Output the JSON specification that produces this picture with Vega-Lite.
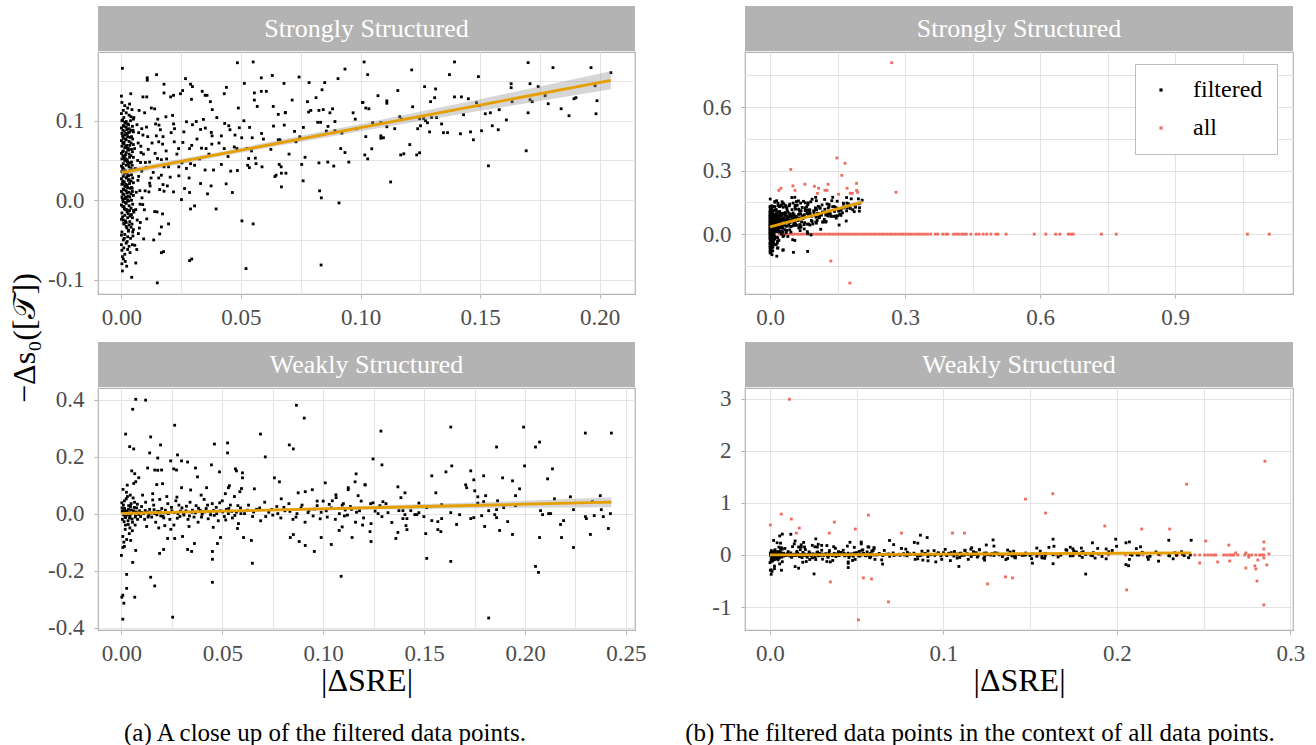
{
"$schema": "https://vega.github.io/schema/vega-lite/v6.json",
"padding": {"left": 5, "top": 6, "right": 0, "bottom": 0},
"background": "#FFFFFF",
"config": {
 "view": {"stroke": "#B3B3B3", "strokeWidth": 1.2},
 "font": "Liberation Serif",
 "style": {"guide-label": {"font": "Liberation Serif"}, "guide-title": {"font": "Liberation Serif"}},
 "axis": {"labelFont": "Liberation Serif", "labelFontSize": 23, "labelColor": "#4D4D4D", "titleFont": "Liberation Serif", "titleFontSize": 32, "titleFontWeight": "normal", "titleColor": "#000000", "gridColor": "#E3E3E3", "gridWidth": 1, "tickColor": "#B3B3B3", "tickSize": 4, "tickWidth": 1, "domain": false, "labelOverlap": false, "labelFlush": false, "labelBound": false},
 "axisX": {"labelPadding": 8},
 "axisY": {"labelPadding": 10},
 "legend": {"labelFont": "Liberation Serif", "labelFontSize": 24, "labelColor": "#000000"}
},
"datasets": {
 "sf": [
{"x":0.0004,"y":0.166},{"x":0.0108,"y":0.154},{"x":0.0108,"y":0.151},{"x":0.0147,"y":0.158},{"x":0.0268,"y":0.153},{"x":0.0485,"y":0.173},{"x":0.0551,"y":0.174},{"x":0.0178,"y":0.146},{"x":0.0289,"y":0.146},{"x":0.0297,"y":0.143},{"x":0.0514,"y":0.147},{"x":0.0585,"y":0.154},{"x":0.0631,"y":0.157},{"x":0.068,"y":0.147},{"x":0.0743,"y":0.155},{"x":0.0785,"y":0.148},{"x":0.085,"y":0.148},{"x":0.0906,"y":0.153},{"x":0.0935,"y":0.165},{"x":0.1015,"y":0.174},
{"x":0.0,"y":0.131},{"x":0.0039,"y":0.134},{"x":0.009,"y":0.130},{"x":0.0106,"y":0.130},{"x":0.0178,"y":0.135},{"x":0.0206,"y":0.130},{"x":0.0218,"y":0.132},{"x":0.0247,"y":0.134},{"x":0.0256,"y":0.138},{"x":0.0293,"y":0.127},{"x":0.0338,"y":0.137},{"x":0.035,"y":0.132},{"x":0.0358,"y":0.132},{"x":0.0372,"y":0.124},{"x":0.038,"y":0.114},{"x":0.043,"y":0.134},{"x":0.0439,"y":0.142},{"x":0.0489,"y":0.116},{"x":0.0556,"y":0.135},{"x":0.0556,"y":0.126},{"x":0.0568,"y":0.118},{"x":0.0585,"y":0.137},{"x":0.0606,"y":0.137},{"x":0.0635,"y":0.118},{"x":0.0656,"y":0.108},{"x":0.0685,"y":0.110},{"x":0.0714,"y":0.126},{"x":0.0778,"y":0.124},{"x":0.0783,"y":0.111},{"x":0.0792,"y":0.113},{"x":0.0814,"y":0.129},{"x":0.0839,"y":0.139},{"x":0.0826,"y":0.113},{"x":0.0844,"y":0.114},{"x":0.0872,"y":0.110},{"x":0.0883,"y":0.115},{"x":0.0893,"y":0.099},{"x":0.0969,"y":0.110},{"x":0.0978,"y":0.102},{"x":0.1008,"y":0.123},
{"x":0.0074,"y":0.113},{"x":0.0097,"y":0.110},{"x":0.0125,"y":0.116},{"x":0.0139,"y":0.115},{"x":0.0157,"y":0.0945},{"x":0.0143,"y":0.096},{"x":0.0163,"y":0.0887},{"x":0.0186,"y":0.105},{"x":0.0214,"y":0.1067},{"x":0.0218,"y":0.096},{"x":0.0222,"y":0.090},{"x":0.0272,"y":0.0987},{"x":0.0297,"y":0.095},{"x":0.0313,"y":0.099},{"x":0.0331,"y":0.089},{"x":0.0351,"y":0.0908},{"x":0.0343,"y":0.1017},{"x":0.0376,"y":0.0853},{"x":0.0379,"y":0.081},{"x":0.0399,"y":0.104},{"x":0.0418,"y":0.081},{"x":0.0432,"y":0.0966},{"x":0.0449,"y":0.0937},{"x":0.0454,"y":0.0887},{"x":0.0493,"y":0.0912},{"x":0.0503,"y":0.0786},{"x":0.0536,"y":0.0916},{"x":0.0547,"y":0.0786},{"x":0.0586,"y":0.084},{"x":0.0594,"y":0.0769},{"x":0.0636,"y":0.0933},{"x":0.0656,"y":0.076},{"x":0.0663,"y":0.076},{"x":0.0681,"y":0.0945},{"x":0.0686,"y":0.1105},{"x":0.0724,"y":0.0866},{"x":0.0746,"y":0.0798},{"x":0.0761,"y":0.0916},{"x":0.0821,"y":0.098},{"x":0.0833,"y":0.098},{"x":0.0857,"y":0.087},{"x":0.0864,"y":0.0929},{"x":0.0893,"y":0.0874},{"x":0.0922,"y":0.0845},{"x":0.0917,"y":0.065},{"x":0.0935,"y":0.060},{"x":0.0983,"y":0.090},
{"x":0.009,"y":0.082},{"x":0.011,"y":0.080},{"x":0.0146,"y":0.081},{"x":0.0174,"y":0.080},{"x":0.0156,"y":0.0735},{"x":0.0172,"y":0.0706},{"x":0.0221,"y":0.0735},{"x":0.0257,"y":0.0727},{"x":0.0239,"y":0.065},{"x":0.0294,"y":0.069},{"x":0.0285,"y":0.065},{"x":0.0335,"y":0.0655},{"x":0.0354,"y":0.065},{"x":0.0378,"y":0.0706},{"x":0.043,"y":0.065},{"x":0.0472,"y":0.067},{"x":0.0483,"y":0.065},{"x":0.0525,"y":0.065},{"x":0.0532,"y":0.0525},{"x":0.0528,"y":0.044},{"x":0.0535,"y":0.041},{"x":0.056,"y":0.053},{"x":0.0563,"y":0.046},{"x":0.0588,"y":0.042},{"x":0.0625,"y":0.064},{"x":0.066,"y":0.045},{"x":0.0668,"y":0.042},{"x":0.0701,"y":0.058},{"x":0.073,"y":0.0735},{"x":0.0768,"y":0.054},{"x":0.0754,"y":0.045},{"x":0.0826,"y":0.047},{"x":0.0863,"y":0.048},{"x":0.0888,"y":0.043},{"x":0.0951,"y":0.048},{"x":0.008,"y":0.0475},{"x":0.010,"y":0.0475},{"x":0.0118,"y":0.048},{"x":0.0151,"y":0.0525},{"x":0.0167,"y":0.051},{"x":0.0189,"y":0.052},{"x":0.0178,"y":0.042},{"x":0.0197,"y":0.042},{"x":0.024,"y":0.042},{"x":0.0253,"y":0.047},{"x":0.0272,"y":0.040},{"x":0.0289,"y":0.046},{"x":0.0306,"y":0.044},{"x":0.035,"y":0.038},{"x":0.0385,"y":0.038},{"x":0.0418,"y":0.045},{"x":0.0457,"y":0.0366},{"x":0.0485,"y":0.0374},
{"x":0.0085,"y":0.0366},{"x":0.0156,"y":0.028},{"x":0.0167,"y":0.0315},{"x":0.0118,"y":0.0214},{"x":0.012,"y":0.018},{"x":0.0174,"y":0.0197},{"x":0.0192,"y":0.018},{"x":0.0204,"y":0.029},{"x":0.024,"y":0.0307},{"x":0.0283,"y":0.028},{"x":0.0264,"y":0.0147},{"x":0.0285,"y":0.0097},{"x":0.0331,"y":0.021},{"x":0.0375,"y":0.018},{"x":0.036,"y":0.008},{"x":0.0438,"y":0.0206},{"x":0.0464,"y":0.0097},{"x":0.0099,"y":0.0118},{"x":0.0115,"y":0.0105},{"x":0.016,"y":0.0134},{"x":0.0178,"y":0.0113},{"x":0.0218,"y":0.0105},{"x":0.0251,"y":0.0008},{"x":0.0089,"y":-0.0055},{"x":0.0106,"y":-0.0235},{"x":0.0139,"y":-0.0143},{"x":0.0149,"y":-0.0147},{"x":0.0172,"y":-0.0172},{"x":0.0197,"y":-0.0298},{"x":0.0167,"y":-0.0336},{"x":0.016,"y":-0.0424},{"x":0.0093,"y":-0.0487},{"x":0.0135,"y":-0.05},{"x":0.0289,"y":-0.011},{"x":0.0306,"y":-0.0071},{"x":0.0396,"y":-0.011},{"x":0.0504,"y":-0.026},{"x":0.0551,"y":-0.0298},{"x":0.0669,"y":0.0168},{"x":0.0642,"y":0.0298},{"x":0.0647,"y":0.0315},{"x":0.0669,"y":0.034},{"x":0.0688,"y":0.034},{"x":0.076,"y":0.0244},{"x":0.0829,"y":0.0118},{"x":0.0836,"y":0.003},{"x":0.091,"y":-0.0034},{"x":0.0521,"y":-0.086},{"x":0.0835,"y":-0.0815},{"x":0.0167,"y":-0.066},{"x":0.0176,"y":-0.0647},{"x":0.0285,"y":-0.076},{"x":0.0294,"y":-0.074},{"x":0.0043,"y":-0.097},{"x":0.015,"y":-0.104},{"x":0.006,"y":-0.079},{"x":0.0046,"y":-0.056},{"x":0.0056,"y":-0.0567},{"x":0.006,"y":-0.0118},
{"x":0.103,"y":0.158},{"x":0.101,"y":0.123},{"x":0.1022,"y":0.116},{"x":0.1035,"y":0.115},{"x":0.1073,"y":0.1315},{"x":0.111,"y":0.125},{"x":0.111,"y":0.122},{"x":0.1156,"y":0.138},{"x":0.1214,"y":0.164},{"x":0.1022,"y":0.080},{"x":0.1047,"y":0.0647},{"x":0.1018,"y":0.057},{"x":0.103,"y":0.052},{"x":0.1085,"y":0.081},{"x":0.1085,"y":0.078},{"x":0.1096,"y":0.0786},{"x":0.111,"y":0.0924},{"x":0.1143,"y":0.090},{"x":0.1051,"y":0.0975},{"x":0.1085,"y":0.0975},{"x":0.1164,"y":0.105},{"x":0.1172,"y":0.102},{"x":0.1218,"y":0.1176},{"x":0.1206,"y":0.070},{"x":0.1168,"y":0.057},{"x":0.1181,"y":0.0584},{"x":0.1235,"y":0.057},{"x":0.1247,"y":0.0597},{"x":0.1126,"y":0.023},{"x":0.1239,"y":0.090},{"x":0.1251,"y":0.0937},{"x":0.1247,"y":0.1025},{"x":0.1264,"y":0.1025},{"x":0.1272,"y":0.100},{"x":0.128,"y":0.0975},{"x":0.1268,"y":0.1429},{"x":0.1293,"y":0.124},{"x":0.131,"y":0.129},{"x":0.1314,"y":0.140},{"x":0.1289,"y":0.086},{"x":0.1297,"y":0.104},{"x":0.1318,"y":0.104},{"x":0.1339,"y":0.096},{"x":0.1347,"y":0.085},{"x":0.1364,"y":0.085},{"x":0.1372,"y":0.158},{"x":0.1393,"y":0.174},{"x":0.1393,"y":0.130},{"x":0.1422,"y":0.130},{"x":0.1431,"y":0.1076},{"x":0.1451,"y":0.1277},{"x":0.1418,"y":0.0836},{"x":0.146,"y":0.086},{"x":0.1472,"y":0.076},{"x":0.1485,"y":0.1227},{"x":0.1497,"y":0.119},{"x":0.1493,"y":0.1555},{"x":0.1506,"y":0.0874},{"x":0.1522,"y":0.1088},{"x":0.1543,"y":0.110},{"x":0.1535,"y":0.0433},{"x":0.1551,"y":0.0937},{"x":0.1576,"y":0.0887},{"x":0.158,"y":0.1139},{"x":0.161,"y":0.101},{"x":0.163,"y":0.1466},{"x":0.163,"y":0.1416},{"x":0.1634,"y":0.124},{"x":0.1693,"y":0.0622},{"x":0.1701,"y":0.1731},{"x":0.1701,"y":0.110},{"x":0.1709,"y":0.1466},{"x":0.1709,"y":0.1265},{"x":0.1718,"y":0.124},{"x":0.1743,"y":0.1429},{"x":0.1772,"y":0.1315},{"x":0.1785,"y":0.1214},{"x":0.1805,"y":0.1668},{"x":0.1839,"y":0.1151},{"x":0.1872,"y":0.1063},{"x":0.1893,"y":0.1277},{"x":0.1901,"y":0.129},{"x":0.1964,"y":0.1668},{"x":0.1981,"y":0.1441},{"x":0.1989,"y":0.1252},{"x":0.1985,"y":0.1088},{"x":0.2047,"y":0.1605},
{"x":0.0002,"y":0.123},{"x":0.0014,"y":0.119},{"x":0.0026,"y":0.116},{"x":0.0008,"y":0.113},{"x":0.002,"y":0.110},{"x":0.0032,"y":0.107},{"x":0.004,"y":0.105},{"x":0.005,"y":0.102},{"x":0.0002,"y":0.100},{"x":0.0014,"y":0.098},{"x":0.0026,"y":0.096},{"x":0.0008,"y":0.094},{"x":0.002,"y":0.092},{"x":0.0032,"y":0.090},{"x":0.004,"y":0.088},{"x":0.005,"y":0.086},{"x":0.0002,"y":0.084},{"x":0.0014,"y":0.082},{"x":0.0026,"y":0.080},{"x":0.0008,"y":0.078},{"x":0.002,"y":0.076},{"x":0.0032,"y":0.074},{"x":0.004,"y":0.072},{"x":0.005,"y":0.070},{"x":0.0002,"y":0.068},{"x":0.0014,"y":0.066},{"x":0.0026,"y":0.064},{"x":0.0008,"y":0.062},{"x":0.002,"y":0.060},{"x":0.0032,"y":0.058},{"x":0.004,"y":0.056},{"x":0.005,"y":0.054},{"x":0.0002,"y":0.052},{"x":0.0014,"y":0.050},{"x":0.0026,"y":0.048},{"x":0.0008,"y":0.046},{"x":0.002,"y":0.044},{"x":0.0032,"y":0.042},{"x":0.004,"y":0.040},{"x":0.005,"y":0.038},{"x":0.0002,"y":0.036},{"x":0.0014,"y":0.034},{"x":0.0026,"y":0.032},{"x":0.0008,"y":0.030},{"x":0.002,"y":0.028},{"x":0.0032,"y":0.026},{"x":0.004,"y":0.024},{"x":0.005,"y":0.022},{"x":0.0002,"y":0.020},{"x":0.0014,"y":0.018},{"x":0.0026,"y":0.016},{"x":0.0008,"y":0.014},{"x":0.002,"y":0.012},{"x":0.0032,"y":0.010},{"x":0.004,"y":0.008},{"x":0.005,"y":0.006},{"x":0.0002,"y":0.004},{"x":0.0014,"y":0.002},{"x":0.0026,"y":0.000},{"x":0.0008,"y":-0.002},{"x":0.002,"y":-0.004},{"x":0.0032,"y":-0.007},{"x":0.004,"y":-0.010},{"x":0.005,"y":-0.013},{"x":0.0002,"y":-0.016},{"x":0.0014,"y":-0.019},{"x":0.0026,"y":-0.022},{"x":0.0008,"y":-0.025},{"x":0.002,"y":-0.028},{"x":0.0032,"y":-0.031},{"x":0.004,"y":-0.034},{"x":0.005,"y":-0.037},{"x":0.0002,"y":-0.040},{"x":0.0014,"y":-0.043},{"x":0.0026,"y":-0.046},{"x":0.0008,"y":-0.050},{"x":0.002,"y":-0.054},{"x":0.0032,"y":-0.058},{"x":0.0002,"y":-0.063},{"x":0.0014,"y":-0.068},{"x":0.0008,"y":-0.074},{"x":0.0002,"y":-0.080},{"x":0.0004,"y":-0.089},
{"x":0.0005,"y":0.101},{"x":0.0017,"y":0.097},{"x":0.0011,"y":0.093},{"x":0.0023,"y":0.089},{"x":0.0029,"y":0.085},{"x":0.0005,"y":0.081},{"x":0.0017,"y":0.077},{"x":0.0011,"y":0.073},{"x":0.0023,"y":0.069},{"x":0.0029,"y":0.065},{"x":0.0005,"y":0.061},{"x":0.0017,"y":0.057},{"x":0.0011,"y":0.053},{"x":0.0023,"y":0.049},{"x":0.0029,"y":0.045},{"x":0.0005,"y":0.041},{"x":0.0017,"y":0.037},{"x":0.0011,"y":0.033},{"x":0.0023,"y":0.029},{"x":0.0029,"y":0.025},{"x":0.0005,"y":0.021},{"x":0.0017,"y":0.017},{"x":0.0011,"y":0.013},{"x":0.0023,"y":0.009},{"x":0.0029,"y":0.005},{"x":0.0005,"y":0.001},{"x":0.0017,"y":-0.003},{"x":0.0011,"y":-0.008},{"x":0.0023,"y":-0.012},{"x":0.0029,"y":-0.017},{"x":0.0005,"y":-0.021},{"x":0.0017,"y":-0.026},{"x":0.0011,"y":-0.030},{"x":0.0023,"y":-0.035},{"x":0.0029,"y":-0.039},
{"x":0.0065,"y":0.095},{"x":0.007,"y":0.072},{"x":0.0068,"y":0.05},{"x":0.0072,"y":0.03},{"x":0.0062,"y":0.01},{"x":0.0078,"y":-0.005},{"x":0.0066,"y":-0.025},{"x":0.0075,"y":-0.035},{"x":0.0082,"y":0.06},{"x":0.0085,"y":0.09},{"x":0.0052,"y":0.104},{"x":0.0048,"y":0.088},{"x":0.0055,"y":0.065},{"x":0.0058,"y":0.04},{"x":0.0045,"y":0.015},{"x":0.0052,"y":-0.015},{"x":0.0044,"y":-0.03},{"x":0.0048,"y":-0.045},
{"x":0.0,"y":0.109},{"x":0.001,"y":0.104},{"x":0.002,"y":0.099},{"x":0.003,"y":0.095},{"x":0.0,"y":0.091},{"x":0.0012,"y":0.087},{"x":0.0024,"y":0.083},{"x":0.0036,"y":0.079},{"x":0.0,"y":0.075},{"x":0.001,"y":0.071},{"x":0.002,"y":0.067},{"x":0.003,"y":0.063},{"x":0.0,"y":0.059},{"x":0.0012,"y":0.055},{"x":0.0024,"y":0.051},{"x":0.0036,"y":0.047},{"x":0.0,"y":0.043},{"x":0.001,"y":0.039},{"x":0.002,"y":0.035},{"x":0.003,"y":0.031},{"x":0.0,"y":0.027},{"x":0.0012,"y":0.023},{"x":0.0024,"y":0.019},{"x":0.0036,"y":0.015},{"x":0.0,"y":0.011},{"x":0.001,"y":0.007},{"x":0.002,"y":0.003},{"x":0.003,"y":-0.001},{"x":0.0,"y":-0.006},{"x":0.0012,"y":-0.011},{"x":0.0024,"y":-0.015},{"x":0.0036,"y":-0.020},{"x":0.0,"y":-0.024},{"x":0.001,"y":-0.029},{"x":0.002,"y":-0.033},{"x":0.003,"y":-0.038},{"x":0.0,"y":-0.044},{"x":0.0012,"y":-0.048},{"x":0.0024,"y":-0.052},{"x":0.0,"y":-0.056},{"x":0.001,"y":-0.060},{"x":0.0004,"y":-0.071},{"x":0.0016,"y":-0.077},
{"x":0.0006,"y":0.088},{"x":0.0018,"y":0.084},{"x":0.0042,"y":0.080},{"x":0.0006,"y":0.072},{"x":0.0018,"y":0.068},{"x":0.0042,"y":0.064},{"x":0.0006,"y":0.056},{"x":0.0018,"y":0.052},{"x":0.0042,"y":0.048},{"x":0.0006,"y":0.040},{"x":0.0018,"y":0.036},{"x":0.0042,"y":0.032},{"x":0.0006,"y":0.024},{"x":0.0018,"y":0.020},{"x":0.0042,"y":0.016},{"x":0.0006,"y":0.008},{"x":0.0018,"y":0.004},{"x":0.0042,"y":0.000},{"x":0.0006,"y":-0.008},{"x":0.0018,"y":-0.012},{"x":0.0042,"y":-0.018},
{"x":0.0034,"y":0.121},{"x":0.0044,"y":0.114},{"x":0.0038,"y":0.1},{"x":0.0046,"y":0.093},{"x":0.0035,"y":0.086},{"x":0.0047,"y":0.077},{"x":0.0035,"y":0.069},{"x":0.0046,"y":0.061},{"x":0.0034,"y":0.054},{"x":0.0045,"y":0.044},{"x":0.0035,"y":0.037},{"x":0.0047,"y":0.028},{"x":0.0034,"y":0.021},{"x":0.0046,"y":0.011},{"x":0.0035,"y":0.004},{"x":0.0047,"y":-0.005},{"x":0.0034,"y":-0.013},{"x":0.0046,"y":-0.022},{"x":0.0035,"y":-0.027},{"x":0.0047,"y":-0.04},{"x":0.0038,"y":-0.048},{"x":0.0026,"y":-0.062},{"x":0.0036,"y":-0.066},{"x":0.0022,"y":-0.083},
{"x":0.0072,"y":0.085},{"x":0.0081,"y":0.068},{"x":0.0092,"y":0.058},{"x":0.0105,"y":0.092},{"x":0.0112,"y":0.064},{"x":0.0128,"y":0.072},{"x":0.0133,"y":0.035},{"x":0.0141,"y":0.059},{"x":0.0152,"y":0.102},{"x":0.0069,"y":0.025},{"x":0.0077,"y":0.012},{"x":0.0086,"y":0.003},{"x":0.0096,"y":-0.012},{"x":0.0079,"y":-0.028},{"x":0.0071,"y":-0.042},{"x":0.0064,"y":-0.062},{"x":0.0103,"y":0.041},{"x":0.0124,"y":0.028},{"x":0.0187,"y":0.062},{"x":0.0208,"y":0.085},{"x":0.0232,"y":0.058},{"x":0.0261,"y":0.086},{"x":0.0316,"y":0.077},{"x":0.0327,"y":0.052},{"x":0.0366,"y":0.058},{"x":0.0408,"y":0.072},{"x":0.0446,"y":0.055},{"x":0.0475,"y":0.082},{"x":0.0512,"y":0.1},{"x":0.0544,"y":0.062}
 ],
 "sa": [
{"x":0.2705,"y":0.81},{"x":0.0461,"y":0.306},{"x":0.1485,"y":0.36},{"x":0.1665,"y":0.335},{"x":0.1595,"y":0.278},{"x":0.0242,"y":0.2168},{"x":0.0195,"y":0.207},{"x":0.0508,"y":0.228},{"x":0.0555,"y":0.207},{"x":0.0774,"y":0.2356},{"x":0.0985,"y":0.226},{"x":0.1079,"y":0.2168},{"x":0.1219,"y":0.207},{"x":0.1266,"y":0.207},{"x":0.129,"y":0.2356},{"x":0.1055,"y":0.193},{"x":0.1524,"y":0.1885},{"x":0.1712,"y":0.2168},{"x":0.1782,"y":0.193},{"x":0.1829,"y":0.193},{"x":0.1923,"y":0.207},{"x":0.1946,"y":0.198},{"x":0.1923,"y":0.24},{"x":0.2798,"y":0.198},{"x":0.1352,"y":-0.127},{"x":0.1774,"y":-0.231},
{"x":0.020,"y":0},{"x":0.026,"y":0},{"x":0.032,"y":0},{"x":0.038,"y":0},{"x":0.044,"y":0},{"x":0.050,"y":0},{"x":0.056,"y":0},{"x":0.062,"y":0},{"x":0.068,"y":0},{"x":0.074,"y":0},{"x":0.080,"y":0},{"x":0.086,"y":0},{"x":0.092,"y":0},{"x":0.098,"y":0},{"x":0.104,"y":0},{"x":0.110,"y":0},{"x":0.116,"y":0},{"x":0.122,"y":0},{"x":0.128,"y":0},{"x":0.134,"y":0},{"x":0.140,"y":0},{"x":0.146,"y":0},{"x":0.152,"y":0},{"x":0.158,"y":0},{"x":0.164,"y":0},{"x":0.170,"y":0},{"x":0.176,"y":0},{"x":0.182,"y":0},{"x":0.188,"y":0},{"x":0.194,"y":0},{"x":0.200,"y":0},{"x":0.206,"y":0},{"x":0.212,"y":0},{"x":0.218,"y":0},{"x":0.224,"y":0},{"x":0.230,"y":0},{"x":0.236,"y":0},{"x":0.242,"y":0},{"x":0.248,"y":0},{"x":0.254,"y":0},{"x":0.260,"y":0},{"x":0.266,"y":0},{"x":0.272,"y":0},{"x":0.278,"y":0},{"x":0.284,"y":0},{"x":0.290,"y":0},{"x":0.296,"y":0},{"x":0.302,"y":0},{"x":0.308,"y":0},{"x":0.314,"y":0},{"x":0.320,"y":0},{"x":0.326,"y":0},{"x":0.332,"y":0},{"x":0.338,"y":0},{"x":0.344,"y":0},{"x":0.350,"y":0},
{"x":0.357,"y":0},{"x":0.3674,"y":0},{"x":0.3729,"y":0},{"x":0.3838,"y":0},{"x":0.3908,"y":0},{"x":0.3947,"y":0},{"x":0.408,"y":0},{"x":0.4143,"y":0},{"x":0.4198,"y":0},{"x":0.426,"y":0},{"x":0.4315,"y":0},{"x":0.4362,"y":0},{"x":0.4463,"y":0},{"x":0.458,"y":0},{"x":0.4643,"y":0},{"x":0.4737,"y":0},{"x":0.4815,"y":0},{"x":0.4909,"y":0},{"x":0.5018,"y":0},{"x":0.5065,"y":0},{"x":0.5245,"y":0},{"x":0.587,"y":0},{"x":0.6128,"y":0},{"x":0.6347,"y":0},{"x":0.6441,"y":0},{"x":0.6629,"y":0},{"x":0.6683,"y":0},{"x":0.6738,"y":0},{"x":0.7363,"y":0},{"x":0.7692,"y":0},{"x":1.0607,"y":0},{"x":1.1092,"y":0}
 ],
 "wf": [
{"x":0.0071,"y":0.401},{"x":0.012,"y":0.398},{"x":0.0056,"y":0.366},{"x":0.0264,"y":0.310},{"x":0.0021,"y":0.279},{"x":0.0145,"y":0.269},{"x":0.0041,"y":0.235},{"x":0.0061,"y":0.227},{"x":0.0194,"y":0.241},{"x":0.014,"y":0.213},{"x":0.0278,"y":0.206},{"x":0.018,"y":0.195},{"x":0.0244,"y":0.185},{"x":0.0298,"y":0.185},{"x":0.0328,"y":0.181},{"x":0.013,"y":0.160},{"x":0.0165,"y":0.153},{"x":0.018,"y":0.152},{"x":0.0199,"y":0.153},{"x":0.0259,"y":0.157},{"x":0.0273,"y":0.153},{"x":0.0051,"y":0.150},{"x":0.0066,"y":0.140},{"x":0.0086,"y":0.126},{"x":0.0061,"y":0.106},{"x":0.0071,"y":0.112},{"x":0.0175,"y":0.102},{"x":0.0204,"y":0.105},{"x":0.0367,"y":0.160},{"x":0.0377,"y":0.129},{"x":0.0298,"y":0.091},{"x":0.0343,"y":0.083},{"x":0.0422,"y":0.091},{"x":0.0446,"y":0.171},{"x":0.0461,"y":0.244},{"x":0.0486,"y":0.1465},{"x":0.0526,"y":0.248},{"x":0.0526,"y":0.213},{"x":0.0565,"y":0.157},{"x":0.057,"y":0.150},{"x":0.06,"y":0.143},{"x":0.06,"y":0.1256},{"x":0.0535,"y":0.098},{"x":0.053,"y":0.091},{"x":0.0587,"y":0.077},{"x":0.0595,"y":0.088},{"x":0.0659,"y":0.087},{"x":0.0689,"y":0.279},{"x":0.0713,"y":0.199},{"x":0.0758,"y":0.1256},{"x":0.0783,"y":0.1116},{"x":0.0792,"y":0.052},{"x":0.0867,"y":0.380},{"x":0.0906,"y":0.335},{"x":0.0832,"y":0.241},{"x":0.0852,"y":0.227},{"x":0.0876,"y":0.073},{"x":0.0911,"y":0.077},{"x":0.0946,"y":0.084},{"x":0.101,"y":0.108},{"x":0.1063,"y":0.066},{"x":0.1064,"y":0.056},{"x":0.1124,"y":0.091},{"x":0.1124,"y":0.084},{"x":0.1163,"y":0.1395},{"x":0.1158,"y":0.1116},{"x":0.1173,"y":0.063},{"x":0.1188,"y":0.044},{"x":0.1208,"y":0.101},{"x":0.097,"y":0.044},{"x":0.100,"y":0.044},{"x":0.103,"y":0.0326},{"x":0.1094,"y":0.030},{"x":0.1109,"y":0.0128},
{"x":0.0,"y":-0.1465},{"x":0.0007,"y":-0.1186},{"x":0.0015,"y":-0.115},{"x":0.0026,"y":-0.0907},{"x":0.0046,"y":-0.094},{"x":0.0007,"y":-0.080},{"x":0.0012,"y":-0.100},{"x":0.0071,"y":-0.129},{"x":0.0056,"y":-0.171},{"x":0.0026,"y":-0.213},{"x":0.0026,"y":-0.262},{"x":0.0007,"y":-0.286},{"x":0.0002,"y":-0.293},{"x":0.0012,"y":-0.314},{"x":0.0066,"y":-0.293},{"x":0.0007,"y":-0.370},{"x":0.0145,"y":-0.223},{"x":0.0165,"y":-0.2535},{"x":0.0254,"y":-0.363},{"x":0.0189,"y":-0.1395},{"x":0.0209,"y":-0.1256},{"x":0.0229,"y":-0.087},{"x":0.0264,"y":-0.087},{"x":0.0303,"y":-0.080},{"x":0.0328,"y":-0.1256},{"x":0.0348,"y":-0.1326},{"x":0.0362,"y":-0.1047},{"x":0.0451,"y":-0.1326},{"x":0.0451,"y":-0.160},{"x":0.0451,"y":-0.2407},{"x":0.0476,"y":-0.1047},{"x":0.0491,"y":-0.0837},{"x":0.0605,"y":-0.0837},{"x":0.0644,"y":-0.094},{"x":0.0649,"y":-0.174},{"x":0.0837,"y":-0.0837},{"x":0.0852,"y":-0.0733},{"x":0.0881,"y":-0.0977},{"x":0.0911,"y":-0.1116},{"x":0.0956,"y":-0.1326},{"x":0.099,"y":-0.0837},{"x":0.104,"y":-0.108},{"x":0.1089,"y":-0.2198},{"x":0.1143,"y":-0.0837},{"x":0.1079,"y":-0.059},{"x":0.1094,"y":-0.0465},
{"x":0.0003,"y":0.02},{"x":0.0008,"y":0.01},{"x":0.0012,"y":0.0},{"x":0.0018,"y":-0.01},{"x":0.0005,"y":-0.02},{"x":0.001,"y":0.03},{"x":0.0022,"y":0.005},{"x":0.0028,"y":-0.005},{"x":0.0035,"y":0.015},{"x":0.004,"y":-0.015},{"x":0.0045,"y":0.025},{"x":0.005,"y":0.0},{"x":0.0055,"y":-0.03},{"x":0.006,"y":0.01},{"x":0.0065,"y":0.04},{"x":0.007,"y":-0.008},{"x":0.0075,"y":0.02},{"x":0.008,"y":-0.02},{"x":0.0015,"y":0.045},{"x":0.003,"y":0.06},{"x":0.002,"y":-0.04},{"x":0.0042,"y":-0.05},{"x":0.0025,"y":0.075},{"x":0.0058,"y":0.055},{"x":0.0068,"y":-0.04},{"x":0.0033,"y":-0.025},{"x":0.0048,"y":0.035},{"x":0.0009,"y":0.005},{"x":0.0017,"y":0.012},{"x":0.0038,"y":0.003},
{"x":0.009,"y":0.01},{"x":0.0095,"y":-0.01},{"x":0.010,"y":0.025},{"x":0.011,"y":0.0},{"x":0.0115,"y":-0.02},{"x":0.012,"y":0.04},{"x":0.013,"y":0.005},{"x":0.0135,"y":-0.005},{"x":0.014,"y":0.015},{"x":0.015,"y":-0.012},{"x":0.016,"y":0.03},{"x":0.0165,"y":0.0},{"x":0.017,"y":-0.03},{"x":0.018,"y":0.008},{"x":0.019,"y":0.05},{"x":0.0195,"y":-0.008},{"x":0.020,"y":0.018},{"x":0.021,"y":-0.015},{"x":0.022,"y":0.003},{"x":0.023,"y":0.035},{"x":0.024,"y":-0.02},{"x":0.025,"y":0.01},{"x":0.026,"y":-0.04},{"x":0.027,"y":0.045},{"x":0.028,"y":0.0},{"x":0.029,"y":-0.01},{"x":0.0105,"y":0.065},{"x":0.0125,"y":-0.045},{"x":0.0155,"y":0.07},{"x":0.0185,"y":-0.05},{"x":0.0225,"y":0.06},{"x":0.0245,"y":-0.055},{"x":0.0285,"y":0.03},
{"x":0.030,"y":0.02},{"x":0.031,"y":-0.005},{"x":0.032,"y":0.01},{"x":0.033,"y":-0.02},{"x":0.034,"y":0.04},{"x":0.035,"y":0.005},{"x":0.036,"y":-0.012},{"x":0.037,"y":0.028},{"x":0.038,"y":-0.03},{"x":0.039,"y":0.012},{"x":0.040,"y":-0.002},{"x":0.041,"y":0.05},{"x":0.042,"y":0.018},{"x":0.043,"y":-0.018},{"x":0.044,"y":0.006},{"x":0.045,"y":0.035},{"x":0.046,"y":-0.006},{"x":0.047,"y":0.022},{"x":0.048,"y":-0.025},{"x":0.049,"y":0.01},{"x":0.050,"y":0.045},{"x":0.051,"y":-0.01},{"x":0.052,"y":0.015},{"x":0.053,"y":0.0},{"x":0.054,"y":0.03},{"x":0.055,"y":-0.015},{"x":0.056,"y":0.06},{"x":0.057,"y":0.005},{"x":0.058,"y":-0.035},{"x":0.059,"y":0.02},
{"x":0.061,"y":0.0},{"x":0.063,"y":0.03},{"x":0.065,"y":-0.01},{"x":0.067,"y":0.015},{"x":0.069,"y":-0.025},{"x":0.071,"y":0.04},{"x":0.073,"y":0.005},{"x":0.075,"y":-0.005},{"x":0.077,"y":0.025},{"x":0.079,"y":-0.015},{"x":0.081,"y":0.01},{"x":0.083,"y":0.035},{"x":0.085,"y":-0.02},{"x":0.087,"y":0.0},{"x":0.089,"y":0.02},{"x":0.091,"y":-0.03},{"x":0.093,"y":0.012},{"x":0.095,"y":-0.008},{"x":0.097,"y":0.028},{"x":0.099,"y":0.005},{"x":0.102,"y":-0.012},{"x":0.104,"y":0.02},{"x":0.106,"y":-0.02},{"x":0.108,"y":0.0},{"x":0.110,"y":0.035},{"x":0.112,"y":-0.005},{"x":0.114,"y":0.015},{"x":0.116,"y":-0.03},{"x":0.118,"y":0.01},{"x":0.12,"y":-0.015},
{"x":0.0004,"y":0.008},{"x":0.0011,"y":-0.004},{"x":0.0016,"y":0.018},{"x":0.0021,"y":-0.014},{"x":0.0027,"y":0.009},{"x":0.0031,"y":-0.002},{"x":0.0036,"y":0.028},{"x":0.0043,"y":-0.009},{"x":0.0049,"y":0.013},{"x":0.0053,"y":-0.019},{"x":0.0059,"y":0.004},{"x":0.0064,"y":0.022},{"x":0.0069,"y":-0.012},{"x":0.0074,"y":0.006},{"x":0.0079,"y":0.033},{"x":0.0085,"y":-0.003},{"x":0.0002,"y":0.038},{"x":0.0013,"y":-0.028},{"x":0.0024,"y":0.052},{"x":0.0034,"y":-0.038},{"x":0.0044,"y":0.065},{"x":0.0054,"y":-0.06},{"x":0.0008,"y":0.085},{"x":0.0019,"y":-0.055},{"x":0.0029,"y":0.1},{"x":0.0039,"y":-0.07},
{"x":0.0102,"y":0.004},{"x":0.0118,"y":0.011},{"x":0.0132,"y":-0.012},{"x":0.0147,"y":0.002},{"x":0.0162,"y":0.014},{"x":0.0176,"y":-0.004},{"x":0.0191,"y":0.007},{"x":0.0206,"y":-0.009},{"x":0.0218,"y":0.012},{"x":0.0233,"y":0.0},{"x":0.0248,"y":0.022},{"x":0.0262,"y":0.004},{"x":0.0277,"y":-0.016},{"x":0.0293,"y":0.009},{"x":0.0308,"y":0.0},{"x":0.0322,"y":0.026},{"x":0.0337,"y":-0.008},{"x":0.0352,"y":0.012},{"x":0.0367,"y":0.003},{"x":0.0382,"y":0.019},{"x":0.0397,"y":-0.012},{"x":0.0412,"y":0.006},{"x":0.0427,"y":0.03},{"x":0.0442,"y":-0.004},{"x":0.0457,"y":0.011},{"x":0.0472,"y":0.0},{"x":0.0487,"y":0.038},{"x":0.0502,"y":0.006},{"x":0.0517,"y":-0.022},{"x":0.0532,"y":0.018},{"x":0.0547,"y":0.008},{"x":0.0562,"y":-0.006},{"x":0.0577,"y":0.028},{"x":0.0592,"y":0.0},{"x":0.0155,"y":0.048},{"x":0.0215,"y":-0.042},{"x":0.0275,"y":0.058},{"x":0.0335,"y":-0.045},{"x":0.0395,"y":0.065},{"x":0.0455,"y":-0.048},{"x":0.0515,"y":0.07},{"x":0.0575,"y":-0.052},
{"x":0.0625,"y":0.012},{"x":0.0655,"y":0.006},{"x":0.0685,"y":0.02},{"x":0.0715,"y":-0.01},{"x":0.0745,"y":0.015},{"x":0.0775,"y":0.0},{"x":0.0805,"y":0.022},{"x":0.0835,"y":0.008},{"x":0.0865,"y":-0.012},{"x":0.0895,"y":0.03},{"x":0.0925,"y":0.004},{"x":0.0955,"y":0.016},{"x":0.0985,"y":-0.018},{"x":0.1015,"y":0.01},{"x":0.1045,"y":0.045},{"x":0.1075,"y":0.018},{"x":0.1105,"y":-0.008},{"x":0.1135,"y":0.025},{"x":0.1165,"y":0.005},{"x":0.1195,"y":-0.04},
{"x":0.1286,"y":0.2895},{"x":0.1247,"y":0.1919},{"x":0.1291,"y":0.171},{"x":0.1207,"y":0.101},{"x":0.137,"y":0.094},{"x":0.1405,"y":0.073},{"x":0.1385,"y":0.056},{"x":0.1632,"y":0.3035},{"x":0.1538,"y":0.1326},{"x":0.1608,"y":0.1465},{"x":0.1637,"y":0.1674},{"x":0.1558,"y":0.073},{"x":0.1706,"y":0.101},{"x":0.1711,"y":0.091},{"x":0.1731,"y":0.150},{"x":0.1746,"y":0.1186},{"x":0.1751,"y":0.080},{"x":0.1766,"y":0.059},{"x":0.1795,"y":0.1326},{"x":0.1805,"y":0.063},{"x":0.1859,"y":0.2337},{"x":0.1889,"y":0.1256},{"x":0.1938,"y":0.115},{"x":0.1953,"y":0.063},{"x":0.1973,"y":0.087},{"x":0.1993,"y":0.3035},{"x":0.1998,"y":0.1674},{"x":0.2052,"y":0.2337},{"x":0.2072,"y":0.251},{"x":0.2112,"y":0.122},{"x":0.2136,"y":0.157},{"x":0.2146,"y":0.052},{"x":0.2225,"y":0.059},{"x":0.2299,"y":0.2826},{"x":0.2373,"y":0.063},{"x":0.2428,"y":0.2826},
{"x":0.1235,"y":0.035},{"x":0.1247,"y":0.038},{"x":0.1296,"y":0.042},{"x":0.1311,"y":0.035},{"x":0.1281,"y":0.028},{"x":0.1257,"y":0.009},{"x":0.1272,"y":0.0},{"x":0.1237,"y":-0.035},{"x":0.1232,"y":-0.063},{"x":0.1237,"y":-0.0977},{"x":0.1291,"y":-0.0105},{"x":0.1321,"y":0.0035},{"x":0.134,"y":-0.031},{"x":0.136,"y":-0.087},{"x":0.137,"y":-0.066},{"x":0.1375,"y":0.0105},{"x":0.1395,"y":0.0105},{"x":0.1395,"y":-0.0174},{"x":0.1415,"y":-0.0174},{"x":0.1405,"y":-0.0035},{"x":0.141,"y":-0.042},{"x":0.1415,"y":-0.056},{"x":0.1434,"y":0.0105},{"x":0.1454,"y":-0.0035},{"x":0.1464,"y":-0.0035},{"x":0.1474,"y":0.0035},{"x":0.1474,"y":0.037},{"x":0.1499,"y":-0.0105},{"x":0.1508,"y":-0.070},{"x":0.1513,"y":-0.157},{"x":0.1513,"y":0.021},{"x":0.1538,"y":-0.0244},{"x":0.1568,"y":-0.028},{"x":0.1568,"y":-0.056},{"x":0.1583,"y":-0.063},{"x":0.1587,"y":-0.0174},{"x":0.1587,"y":0.0314},{"x":0.1632,"y":0.0035},{"x":0.1632,"y":-0.1674},{"x":0.1661,"y":-0.038},{"x":0.1676,"y":-0.0035},{"x":0.1731,"y":-0.0174},{"x":0.1746,"y":-0.014},{"x":0.1766,"y":0.037},{"x":0.1795,"y":0.042},{"x":0.1785,"y":-0.007},{"x":0.18,"y":-0.045},{"x":0.182,"y":0.0105},{"x":0.182,"y":-0.366},{"x":0.185,"y":-0.0035},{"x":0.1859,"y":0.014},{"x":0.1859,"y":-0.014},{"x":0.1864,"y":0.045},{"x":0.1874,"y":-0.059},{"x":0.1894,"y":0.021},{"x":0.1914,"y":-0.028},{"x":0.1938,"y":-0.073},{"x":0.1953,"y":0.028},{"x":0.2052,"y":-0.185},{"x":0.2067,"y":-0.206},{"x":0.2072,"y":-0.0837},{"x":0.2077,"y":0.0105},{"x":0.2087,"y":-0.0035},{"x":0.2117,"y":0.0},{"x":0.2127,"y":0.0},{"x":0.2176,"y":-0.038},{"x":0.2191,"y":-0.0244},{"x":0.2181,"y":-0.0837},{"x":0.224,"y":0.014},{"x":0.224,"y":-0.1186},{"x":0.2299,"y":-0.0105},{"x":0.2304,"y":-0.0174},{"x":0.2324,"y":-0.073},{"x":0.2334,"y":0.042},{"x":0.2343,"y":-0.007},{"x":0.2378,"y":0.014},{"x":0.2388,"y":-0.0105},{"x":0.2413,"y":-0.052},{"x":0.2423,"y":0.0}
 ],
 "wa": [
{"x":0.0112,"y":2.99},{"x":0.0065,"y":0.785},{"x":0.0123,"y":0.69},{"x":0.0002,"y":0.575},{"x":0.0169,"y":0.517},{"x":0.0152,"y":0.42},{"x":0.0371,"y":0.632},{"x":0.0342,"y":0.42},{"x":0.0492,"y":0.498},{"x":0.0567,"y":0.766},{"x":0.0758,"y":0.42},{"x":0.1052,"y":0.42},{"x":0.1121,"y":0.42},{"x":0.0348,"y":-0.517},{"x":0.0538,"y":-0.44},{"x":0.0585,"y":-0.46},{"x":0.0683,"y":-0.9},{"x":0.051,"y":-1.245},{"x":0.1254,"y":-0.556},{"x":0.1358,"y":-0.42},{"x":0.1398,"y":-0.44},
{"x":0.1473,"y":1.073},{"x":0.163,"y":1.175},{"x":0.1589,"y":0.805},{"x":0.193,"y":0.556},{"x":0.2143,"y":0.498},{"x":0.2304,"y":0.498},{"x":0.2402,"y":1.36},{"x":0.2853,"y":1.8},{"x":0.2512,"y":0.268},{"x":0.2645,"y":0.19},{"x":0.2685,"y":0.04},{"x":0.2743,"y":0.04},{"x":0.2847,"y":0.25},{"x":0.2847,"y":0.115},{"x":0.2477,"y":-0.153},{"x":0.2581,"y":-0.134},{"x":0.265,"y":-0.115},{"x":0.2743,"y":-0.25},{"x":0.2795,"y":-0.21},{"x":0.2801,"y":-0.268},{"x":0.2807,"y":-0.5},{"x":0.2864,"y":-0.19},{"x":0.2847,"y":-0.958},{"x":0.276,"y":-0.04},{"x":0.2812,"y":-0.096},{"x":0.2847,"y":-0.057},{"x":0.2056,"y":-0.67},{"x":0.2876,"y":0.02},
{"x":0.2449,"y":0},{"x":0.2477,"y":0},{"x":0.2506,"y":0},{"x":0.2524,"y":0},{"x":0.2541,"y":0},{"x":0.2558,"y":0},{"x":0.257,"y":0},{"x":0.2616,"y":0},{"x":0.2633,"y":0},{"x":0.265,"y":0},{"x":0.2662,"y":0},{"x":0.2673,"y":0},{"x":0.2697,"y":0},{"x":0.2737,"y":0},{"x":0.276,"y":0},{"x":0.2777,"y":0},{"x":0.2801,"y":0},{"x":0.2823,"y":0},{"x":0.2835,"y":0},{"x":0.2847,"y":0},{"x":0.105,"y":0},{"x":0.115,"y":0},{"x":0.125,"y":0},{"x":0.135,"y":0},{"x":0.145,"y":0},{"x":0.155,"y":0},{"x":0.165,"y":0},{"x":0.175,"y":0},{"x":0.185,"y":0},{"x":0.195,"y":0},{"x":0.205,"y":0},{"x":0.215,"y":0},{"x":0.225,"y":0},{"x":0.235,"y":0},{"x":0.062,"y":0},{"x":0.075,"y":0},{"x":0.088,"y":0}
 ],
 "sl": [{"x":0,"y":0.0346,"lo":0.0305,"hi":0.0387},{"x":0.04,"y":0.0573,"lo":0.0545,"hi":0.0601},{"x":0.1,"y":0.0914,"lo":0.0868,"hi":0.096},{"x":0.15,"y":0.1198,"lo":0.1125,"hi":0.1271},{"x":0.2047,"y":0.1509,"lo":0.1395,"hi":0.1623}],
 "wl": [{"x":0,"y":0.0005,"lo":-0.004,"hi":0.005},{"x":0.05,"y":0.0087,"lo":0.005,"hi":0.0124},{"x":0.1,"y":0.0168,"lo":0.0115,"hi":0.0221},{"x":0.15,"y":0.025,"lo":0.0165,"hi":0.0335},{"x":0.2,"y":0.0331,"lo":0.021,"hi":0.0452},{"x":0.2428,"y":0.0401,"lo":0.0225,"hi":0.0577}]
},
"vconcat": [
 {"hconcat": [
  {"hconcat": [
   {"width": 40, "height": 664, "view": {"stroke": null}, "data": {"values": [{"t": "−Δs₀([𝒯])"}]}, "mark": {"type": "text", "angle": 270, "fontSize": 32, "font": "Liberation Serif", "color": "#000000"}, "encoding": {"text": {"field": "t"}}},
   {"vconcat": [
    {"vconcat": [
     {"width": 537, "height": 45, "view": {"fill": "#B3B3B3", "stroke": null}, "data": {"values": [{"t": "Strongly Structured"}]}, "mark": {"type": "text", "color": "#FFFFFF", "fontSize": 26, "font": "Liberation Serif"}, "encoding": {"text": {"field": "t"}}},
     {"width": 537, "height": 242,
      "encoding": {"x": {"field": "x", "type": "quantitative", "scale": {"domain": [-0.0098, 0.2148], "nice": false, "zero": false}, "axis": {"title": null, "labelFont": "Liberation Serif", "values": [0,0.025,0.05,0.075,0.1,0.125,0.15,0.175,0.2], "labelExpr": "abs(datum.value/0.05-round(datum.value/0.05))<1e-6 ? replace(format(datum.value,'.2f'),'\u2212','-') : ''", "tickOpacity": {"condition": {"test": "abs(datum.value/0.05-round(datum.value/0.05))>1e-6", "value": 0}, "value": 1}}}},
      "layer": [
       {"data": {"name": "sf"}, "mark": {"type": "square", "size": 8, "color": "#000000", "opacity": 1}, "encoding": {"y": {"field": "y", "type": "quantitative", "scale": {"domain": [-0.118, 0.1865], "nice": false, "zero": false}, "axis": {"title": null, "labelFont": "Liberation Serif", "values": [-0.1,-0.05,0,0.05,0.1,0.15], "labelExpr": "abs(datum.value/0.1-round(datum.value/0.1))<1e-6 ? replace(format(datum.value,'.1f'),'\u2212','-') : ''", "tickOpacity": {"condition": {"test": "abs(datum.value/0.1-round(datum.value/0.1))>1e-6", "value": 0}, "value": 1}}}}},
       {"data": {"name": "sl"}, "mark": {"type": "area", "color": "#999999", "opacity": 0.4}, "encoding": {"y": {"field": "lo", "type": "quantitative", "scale": {"domain": [-0.118, 0.1865], "nice": false, "zero": false}}, "y2": {"field": "hi"}}},
       {"data": {"name": "sl"}, "mark": {"type": "line", "color": "#E69F00", "strokeWidth": 2.8}, "encoding": {"y": {"field": "y", "type": "quantitative", "scale": {"domain": [-0.118, 0.1865], "nice": false, "zero": false}}}}
      ]}
    ], "spacing": 0},
    {"vconcat": [
     {"width": 537, "height": 45, "view": {"fill": "#B3B3B3", "stroke": null}, "data": {"values": [{"t": "Weakly Structured"}]}, "mark": {"type": "text", "color": "#FFFFFF", "fontSize": 26, "font": "Liberation Serif"}, "encoding": {"text": {"field": "t"}}},
     {"width": 537, "height": 242,
      "encoding": {"x": {"field": "x", "type": "quantitative", "scale": {"domain": [-0.0116, 0.2545], "nice": false, "zero": false}, "axis": {"title": "|ΔSRE|", "titleFont": "Liberation Serif", "labelFont": "Liberation Serif", "titlePadding": 0, "values": [0,0.025,0.05,0.075,0.1,0.125,0.15,0.175,0.2,0.225,0.25], "labelExpr": "abs(datum.value/0.05-round(datum.value/0.05))<1e-6 ? replace(format(datum.value,'.2f'),'\u2212','-') : ''", "tickOpacity": {"condition": {"test": "abs(datum.value/0.05-round(datum.value/0.05))>1e-6", "value": 0}, "value": 1}}}},
      "layer": [
       {"data": {"name": "wf"}, "mark": {"type": "square", "size": 8, "color": "#000000", "opacity": 1}, "encoding": {"y": {"field": "y", "type": "quantitative", "scale": {"domain": [-0.408, 0.4406], "nice": false, "zero": false}, "axis": {"title": null, "labelFont": "Liberation Serif", "values": [-0.4,-0.3,-0.2,-0.1,0,0.1,0.2,0.3,0.4], "labelExpr": "abs(datum.value/0.2-round(datum.value/0.2))<1e-6 ? replace(format(datum.value,'.1f'),'\u2212','-') : ''", "tickOpacity": {"condition": {"test": "abs(datum.value/0.2-round(datum.value/0.2))>1e-6", "value": 0}, "value": 1}}}}},
       {"data": {"name": "wl"}, "mark": {"type": "area", "color": "#999999", "opacity": 0.4}, "encoding": {"y": {"field": "lo", "type": "quantitative", "scale": {"domain": [-0.408, 0.4406], "nice": false, "zero": false}}, "y2": {"field": "hi"}}},
       {"data": {"name": "wl"}, "mark": {"type": "line", "color": "#E69F00", "strokeWidth": 2.8}, "encoding": {"y": {"field": "y", "type": "quantitative", "scale": {"domain": [-0.408, 0.4406], "nice": false, "zero": false}}}}
      ]}
    ], "spacing": 0}
   ], "spacing": 12}
  ], "spacing": 1},
  {"vconcat": [
   {"vconcat": [
    {"width": 548, "height": 45, "view": {"fill": "#B3B3B3", "stroke": null}, "data": {"values": [{"t": "Strongly Structured"}]}, "mark": {"type": "text", "color": "#FFFFFF", "fontSize": 26, "font": "Liberation Serif"}, "encoding": {"text": {"field": "t"}}},
    {"width": 548, "height": 242,
     "encoding": {"x": {"field": "x", "type": "quantitative", "scale": {"domain": [-0.0556, 1.162], "nice": false, "zero": false}, "axis": {"title": null, "labelFont": "Liberation Serif", "values": [0,0.15,0.3,0.45,0.6,0.75,0.9,1.05], "labelExpr": "abs(datum.value/0.3-round(datum.value/0.3))<1e-6 ? replace(format(datum.value,'.1f'),'\u2212','-') : ''", "tickOpacity": {"condition": {"test": "abs(datum.value/0.3-round(datum.value/0.3))>1e-6", "value": 0}, "value": 1}}}},
     "layer": [
      {"data": {"name": "sa"}, "mark": {"type": "square", "size": 8, "opacity": 1}, "encoding": {"y": {"field": "y", "type": "quantitative", "scale": {"domain": [-0.2827, 0.8605], "nice": false, "zero": false}, "axis": {"title": null, "labelFont": "Liberation Serif", "values": [-0.15,0,0.15,0.3,0.45,0.6,0.75], "labelExpr": "abs(datum.value/0.3-round(datum.value/0.3))<1e-6 ? replace(format(datum.value,'.1f'),'\u2212','-') : ''", "tickOpacity": {"condition": {"test": "abs(datum.value/0.3-round(datum.value/0.3))>1e-6", "value": 0}, "value": 1}}},
        "color": {"datum": "all", "type": "nominal", "scale": {"domain": ["filtered", "all"], "range": ["#000000", "#F06A5E"]}, "legend": {"title": null, "orient": "none", "legendX": 1130, "legendY": 58, "symbolType": "square", "symbolSize": 10, "padding": 14, "rowPadding": 14, "strokeColor": "#BDBDBD", "fillColor": "#FFFFFF", "symbolOffset": 0, "labelOffset": 20, "labelFontSize": 24, "labelFont": "Liberation Serif", "labelColor": "#000000"}}}},
      {"data": {"name": "sf"}, "mark": {"type": "square", "size": 8, "opacity": 1}, "encoding": {"y": {"field": "y", "type": "quantitative", "scale": {"domain": [-0.2827, 0.8605], "nice": false, "zero": false}}, "color": {"datum": "filtered", "type": "nominal"}}},
      {"data": {"name": "sl"}, "mark": {"type": "area", "color": "#999999", "opacity": 0.4}, "encoding": {"y": {"field": "lo", "type": "quantitative", "scale": {"domain": [-0.2827, 0.8605], "nice": false, "zero": false}}, "y2": {"field": "hi"}}},
      {"data": {"name": "sl"}, "mark": {"type": "line", "color": "#E69F00", "strokeWidth": 2.8}, "encoding": {"y": {"field": "y", "type": "quantitative", "scale": {"domain": [-0.2827, 0.8605], "nice": false, "zero": false}}}}
     ]}
   ], "spacing": 0},
   {"vconcat": [
    {"width": 548, "height": 45, "view": {"fill": "#B3B3B3", "stroke": null}, "data": {"values": [{"t": "Weakly Structured"}]}, "mark": {"type": "text", "color": "#FFFFFF", "fontSize": 26, "font": "Liberation Serif"}, "encoding": {"text": {"field": "t"}}},
    {"width": 548, "height": 242,
     "encoding": {"x": {"field": "x", "type": "quantitative", "scale": {"domain": [-0.0144, 0.3015], "nice": false, "zero": false}, "axis": {"title": "|ΔSRE|", "titleFont": "Liberation Serif", "labelFont": "Liberation Serif", "titlePadding": 0, "values": [0,0.05,0.1,0.15,0.2,0.25,0.3], "labelExpr": "abs(datum.value/0.1-round(datum.value/0.1))<1e-6 ? replace(format(datum.value,'.1f'),'\u2212','-') : ''", "tickOpacity": {"condition": {"test": "abs(datum.value/0.1-round(datum.value/0.1))>1e-6", "value": 0}, "value": 1}}}},
     "layer": [
      {"data": {"name": "wa"}, "mark": {"type": "square", "size": 8, "color": "#F06A5E", "opacity": 1}, "encoding": {"y": {"field": "y", "type": "quantitative", "scale": {"domain": [-1.44, 3.206], "nice": false, "zero": false}, "axis": {"title": null, "labelFont": "Liberation Serif", "values": [-1,-0.5,0,0.5,1,1.5,2,2.5,3], "labelExpr": "abs(datum.value-round(datum.value))<1e-6 ? replace(format(datum.value,'.0f'),'\u2212','-') : ''", "tickOpacity": {"condition": {"test": "abs(datum.value-round(datum.value))>1e-6", "value": 0}, "value": 1}}}}},
      {"data": {"name": "wf"}, "mark": {"type": "square", "size": 8, "color": "#000000", "opacity": 1}, "encoding": {"y": {"field": "y", "type": "quantitative", "scale": {"domain": [-1.44, 3.206], "nice": false, "zero": false}}}},
      {"data": {"name": "wl"}, "mark": {"type": "area", "color": "#999999", "opacity": 0.4}, "encoding": {"y": {"field": "lo", "type": "quantitative", "scale": {"domain": [-1.44, 3.206], "nice": false, "zero": false}}, "y2": {"field": "hi"}}},
      {"data": {"name": "wl"}, "mark": {"type": "line", "color": "#E69F00", "strokeWidth": 2.8}, "encoding": {"y": {"field": "y", "type": "quantitative", "scale": {"domain": [-1.44, 3.206], "nice": false, "zero": false}}}}
     ]}
   ], "spacing": 0}
  ], "spacing": 12}
 ], "spacing": 54},
 {"hconcat": [
  {"width": 640, "height": 31, "view": {"stroke": null}, "data": {"values": [{"t": "(a) A close up of the filtered data points."}]}, "mark": {"type": "text", "fontSize": 25, "font": "Liberation Serif", "color": "#000000"}, "encoding": {"text": {"field": "t"}}},
  {"width": 650, "height": 31, "view": {"stroke": null}, "data": {"values": [{"t": "(b) The filtered data points in the context of all data points."}]}, "mark": {"type": "text", "fontSize": 25, "font": "Liberation Serif", "color": "#000000"}, "encoding": {"text": {"field": "t"}}}
 ], "spacing": 10}
],
"spacing": 20
}
